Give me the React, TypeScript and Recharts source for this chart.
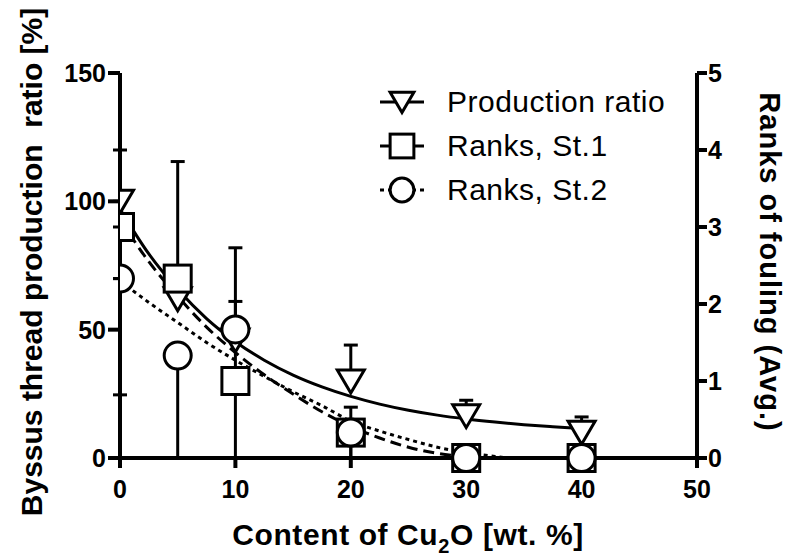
import React from "react";
import { ComposedChart, Scatter, Line, XAxis, YAxis, ErrorBar, Legend, Label } from "recharts";

const FONT = '"Liberation Sans", Arial, Helvetica, sans-serif';

// measured points
const contentX = [0, 5, 10, 20, 30, 40];
const productionRatio = [100, 62, 46, 30, 16.5, 10];
const productionErr = [[0, 20], [0, 7], [0, 15], [0, 14], [0, 6], [0, 6]];
const ranksSt1 = [3, 2.33, 1, 0.33, 0, 0];
const ranksSt1Err = [[2.18, 0], [0, 1.52], [1, 1.73], [0.33, 0.33], [0, 0], [0, 0]];
const ranksSt2 = [2.33, 1.33, 1.67, 0.33, 0, 0];
const ranksSt2Err = [[0, 0], [1.33, 0], [0, 0], [0.33, 0], [0, 0], [0, 0]];

// fitted curves
const prodFitX = [0, 2.5, 5, 7.5, 10, 12.5, 15, 17.5, 20, 22.5, 25, 27.5, 30, 32.5, 35, 37.5, 40];
const prodFit = [97, 79.5, 65.7, 54.3, 45.3, 38.1, 32.3, 27.7, 24, 21, 18.6, 16.7, 15.2, 14, 13, 12.2, 11.5];
const st1FitX = [0, 2.5, 5, 7.5, 10, 12.5, 15, 17.5, 20, 22.5, 25, 27.5, 30, 30.5];
const st1Fit = [3.1, 2.55, 2.1, 1.7, 1.37, 1.08, 0.83, 0.6, 0.41, 0.26, 0.14, 0.06, 0.01, 0];
const st2FitX = [0, 2.5, 5, 7.5, 10, 12.5, 15, 17.5, 20, 22.5, 25, 27.5, 30, 32.5, 33.6];
const st2Fit = [2.3, 2.02, 1.76, 1.5, 1.27, 1.06, 0.86, 0.68, 0.48, 0.35, 0.24, 0.14, 0.07, 0.02, 0];

const xTicks = [0, 10, 20, 30, 40, 50];
const leftTicks = [0, 50, 100, 150];
const rightTicks = [0, 1, 2, 3, 4, 5];
const seriesNames = ["Production ratio", "Ranks, St.1", "Ranks, St.2"];

const prodPoints = contentX.map((x, i) => ({ x, y: productionRatio[i], err: productionErr[i] }));
const st1Points = contentX.map((x, i) => ({ x, y: ranksSt1[i], err: ranksSt1Err[i] }));
const st2Points = contentX.map((x, i) => ({ x, y: ranksSt2[i], err: ranksSt2Err[i] }));
const prodLine = prodFitX.map((x, i) => ({ x, y: prodFit[i] }));
const st1Line = st1FitX.map((x, i) => ({ x, y: st1Fit[i] }));
const st2Line = st2FitX.map((x, i) => ({ x, y: st2Fit[i] }));

const Triangle = ({ cx, cy, s = 1 }: any) => (
  <polygon
    points={`${cx - 13.5 * s},${cy - 11 * s} ${cx + 13.5 * s},${cy - 11 * s} ${cx},${cy + 12 * s}`}
    fill="#fff" stroke="#000" strokeWidth={3}
  />
);
const Square = ({ cx, cy, s = 1 }: any) => (
  <rect x={cx - 13.5 * s} y={cy - 13.5 * s} width={27 * s} height={27 * s} fill="#fff" stroke="#000" strokeWidth={3} />
);
const Circle = ({ cx, cy, s = 1 }: any) => (
  <circle cx={cx} cy={cy} r={13.5 * s} fill="#fff" stroke="#000" strokeWidth={3} />
);

const dashes = [undefined, "11 6", "4 4"];
const shapes = [Triangle, Square, Circle];

const LegendBox = () => (
  <div style={{ fontFamily: FONT, fontSize: 30, color: "#000" }}>
    {seriesNames.map((name, i) => {
      const Shape = shapes[i];
      return (
        <div key={name} style={{ display: "flex", alignItems: "center", height: 44 }}>
          <svg width={50} height={32}>
            <line x1={3} y1={16} x2={47} y2={16} stroke="#000" strokeWidth={3} strokeDasharray={dashes[i]} />
            <Shape cx={25} cy={16} s={0.88} />
          </svg>
          <span style={{ marginLeft: 20, letterSpacing: 0.5 }}>{name}</span>
        </div>
      );
    })}
  </div>
);

const axisLine = { stroke: "#000", strokeWidth: 4 };
const tickLine = { stroke: "#000", strokeWidth: 4 };
const tickStyle = { fill: "#000", fontSize: 25, fontWeight: "bold", fontFamily: FONT };
const titleStyle: any = { fontFamily: FONT, fontSize: 30, fontWeight: "bold", fill: "#000" };

export default function App() {
  return (
    <div style={{ position: "absolute", left: 0, top: 0, width: 788, height: 558, background: "#fff" }}>
      <ComposedChart width={788} height={558} margin={{ top: 73, right: 41, bottom: 10, left: 40 }}>
        <XAxis
          type="number"
          dataKey="x"
          domain={[0, 50]}
          ticks={xTicks}
          axisLine={axisLine}
          tickLine={tickLine}
          tickSize={10}
          tickMargin={12}
          tick={tickStyle}
          height={90}
          allowDataOverflow
        >
          <Label
            content={() => (
              <text x={408} y={545} textAnchor="middle" style={{ ...titleStyle, letterSpacing: 0.6 }}>
                Content of Cu<tspan dy={8} fontSize={20}>2</tspan>
                <tspan dy={-8}>O [wt. %]</tspan>
              </text>
            )}
          />
        </XAxis>
        <YAxis
          yAxisId="left"
          type="number"
          domain={[0, 150]}
          ticks={leftTicks}
          axisLine={axisLine}
          tickLine={tickLine}
          tickSize={12}
          tickMargin={2}
          tick={tickStyle}
          width={80}
        >
          <Label
            content={() => (
              <text x={42} y={262} transform="rotate(-90 42 262)" textAnchor="middle" style={{ ...titleStyle, whiteSpace: "pre" }}>
                Byssus thread production  ratio [%]
              </text>
            )}
          />
        </YAxis>
        <YAxis
          yAxisId="right"
          orientation="right"
          type="number"
          domain={[0, 5]}
          ticks={rightTicks}
          axisLine={axisLine}
          tickLine={tickLine}
          tickSize={10}
          tickMargin={1}
          tick={tickStyle}
          width={50}
        >
          <Label
            content={() => (
              <text x={760} y={262} transform="rotate(90 760 262)" textAnchor="middle" style={{ ...titleStyle, fontSize: 29, letterSpacing: 1 }}>
                Ranks of fouling (Avg.)
              </text>
            )}
          />
        </YAxis>
        <Legend
          layout="vertical"
          align="center"
          verticalAlign="middle"
          content={() => <LegendBox />}
          wrapperStyle={{ left: 377, top: 80, width: 330, height: 132 }}
        />

        <Scatter yAxisId="left" name={seriesNames[0]} data={prodPoints} dataKey="y" shape={(p: any) => <Triangle cx={p.cx} cy={p.cy} />} isAnimationActive={false}>
          <ErrorBar dataKey="err" direction="y" width={7} stroke="#000" strokeWidth={3} />
        </Scatter>
        <Scatter yAxisId="right" name={seriesNames[1]} data={st1Points} dataKey="y" shape={(p: any) => <Square cx={p.cx} cy={p.cy} />} isAnimationActive={false}>
          <ErrorBar dataKey="err" direction="y" width={7} stroke="#000" strokeWidth={3} />
        </Scatter>
        <Scatter yAxisId="right" name={seriesNames[2]} data={st2Points} dataKey="y" shape={(p: any) => <Circle cx={p.cx} cy={p.cy} />} isAnimationActive={false}>
          <ErrorBar dataKey="err" direction="y" width={7} stroke="#000" strokeWidth={3} />
        </Scatter>

        <Line yAxisId="left" data={prodLine} dataKey="y" type="monotone" stroke="#000" strokeWidth={3} dot={false} activeDot={false} legendType="none" isAnimationActive={false} />
        <Line yAxisId="right" data={st1Line} dataKey="y" type="monotone" stroke="#000" strokeWidth={3} strokeDasharray="11 6" dot={false} activeDot={false} legendType="none" isAnimationActive={false} />
        <Line yAxisId="right" data={st2Line} dataKey="y" type="monotone" stroke="#000" strokeWidth={3} strokeDasharray="4 4" dot={false} activeDot={false} legendType="none" isAnimationActive={false} />
      </ComposedChart>
    </div>
  );
}
